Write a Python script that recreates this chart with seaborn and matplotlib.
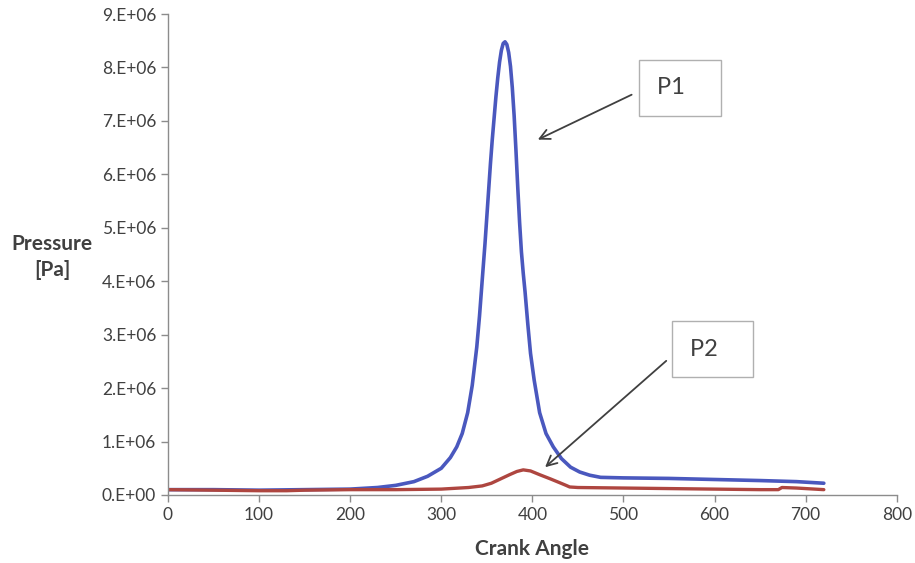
import matplotlib
matplotlib.use("Agg")
from matplotlib import pyplot as plt
import pandas as pd
import seaborn as sns

# P1 pressure trace (crank angle, MPa)
p1_angle = [0, 50, 100, 150, 200, 230, 250, 270, 285, 300, 310, 317, 323, 329, 334,
            339, 342, 345, 348, 350, 352, 354, 356, 358, 360, 362, 364, 366, 368,
            370, 372, 374, 376, 378, 380, 382, 384, 386, 388, 390, 392, 395, 398,
            402, 408, 415, 423, 432, 442, 452, 463, 475, 500, 550, 600, 650, 690, 720]
p1_mpa = [0.10, 0.10, 0.09, 0.10, 0.11, 0.14, 0.18, 0.25, 0.35, 0.50, 0.70, 0.90, 1.15, 1.54, 2.05,
          2.77, 3.35, 4.03, 4.70, 5.20, 5.70, 6.20, 6.65, 7.05, 7.45, 7.80, 8.10, 8.32, 8.45,
          8.48, 8.43, 8.28, 8.02, 7.62, 7.10, 6.45, 5.75, 5.10, 4.55, 4.15, 3.80, 3.20, 2.65,
          2.15, 1.54, 1.15, 0.90, 0.68, 0.52, 0.43, 0.37, 0.33, 0.32, 0.31, 0.29, 0.27, 0.25, 0.22]

# P2 pressure trace
p2_angle = [0, 50, 100, 130, 150, 200, 250, 300, 330, 345, 355, 365, 375, 383, 390,
            398, 408, 420, 430, 437, 441, 450, 500, 550, 600, 650, 670, 674, 690, 720]
p2_mpa = [0.10, 0.09, 0.08, 0.08, 0.09, 0.10, 0.10, 0.11, 0.14, 0.17, 0.22, 0.30, 0.38, 0.44, 0.47,
          0.45, 0.38, 0.30, 0.23, 0.18, 0.15, 0.14, 0.13, 0.12, 0.11, 0.10, 0.10, 0.14, 0.13, 0.10]

df1 = pd.DataFrame({"angle": p1_angle, "pressure": [v * 1e6 for v in p1_mpa]})
df2 = pd.DataFrame({"angle": p2_angle, "pressure": [v * 1e6 for v in p2_mpa]})

sns.set_style("white")
plt.rcParams["font.family"] = ["Lato", "DejaVu Sans"]

fig = plt.figure(figsize=(9.15, 5.63), dpi=100)
ax = fig.add_axes([0.1836, 0.1208, 0.7964, 0.8543])

sns.lineplot(data=df1, x="angle", y="pressure", color="#4A58BE", lw=2.6, ax=ax, sort=False)
sns.lineplot(data=df2, x="angle", y="pressure", color="#AE4640", lw=2.4, ax=ax, sort=False)

ax.set_xlim(0, 800)
ax.set_ylim(0, 9e6)
ax.set_xticks(range(0, 801, 100))
ax.set_yticks([i * 1e6 for i in range(10)])
ax.set_yticklabels([f"{i}.E+0{'6' if i else '0'}" for i in range(10)])

for s in ["top", "right"]:
    ax.spines[s].set_visible(False)
for s in ["left", "bottom"]:
    ax.spines[s].set_color("#8c8c8c")
    ax.spines[s].set_linewidth(1.0)
ax.tick_params(axis="both", direction="out", length=5, width=1, color="#8c8c8c",
               labelsize=12.5, labelcolor="#404040", left=True, bottom=True)

ax.set_xlabel("Crank Angle", fontsize=15, fontweight="bold", color="#404040", labelpad=12)
ax.set_ylabel("")
fig.text(0.057, 0.543, "Pressure\n[Pa]", ha="center", va="center", fontsize=15,
         fontweight="bold", color="#404040", linespacing=1.35)

box = dict(boxstyle="square,pad=0.75", fc="white", ec="#b0b0b0", lw=1)
arrow = dict(arrowstyle="->", color="#404040", lw=1.3, mutation_scale=18, shrinkA=0, shrinkB=0)
ax.annotate("", xy=(406, 6.65e6), xytext=(509, 7.49e6), arrowprops=arrow)
ax.text(562, 7.62e6, "P1   ", fontsize=17, color="#404040", ha="center", va="center", bbox=box)
ax.annotate("", xy=(414, 0.52e6), xytext=(547, 2.51e6), arrowprops=arrow)
ax.text(598, 2.73e6, "P2   ", fontsize=17, color="#404040", ha="center", va="center", bbox=box)

fig.savefig("out.png", dpi=100)
